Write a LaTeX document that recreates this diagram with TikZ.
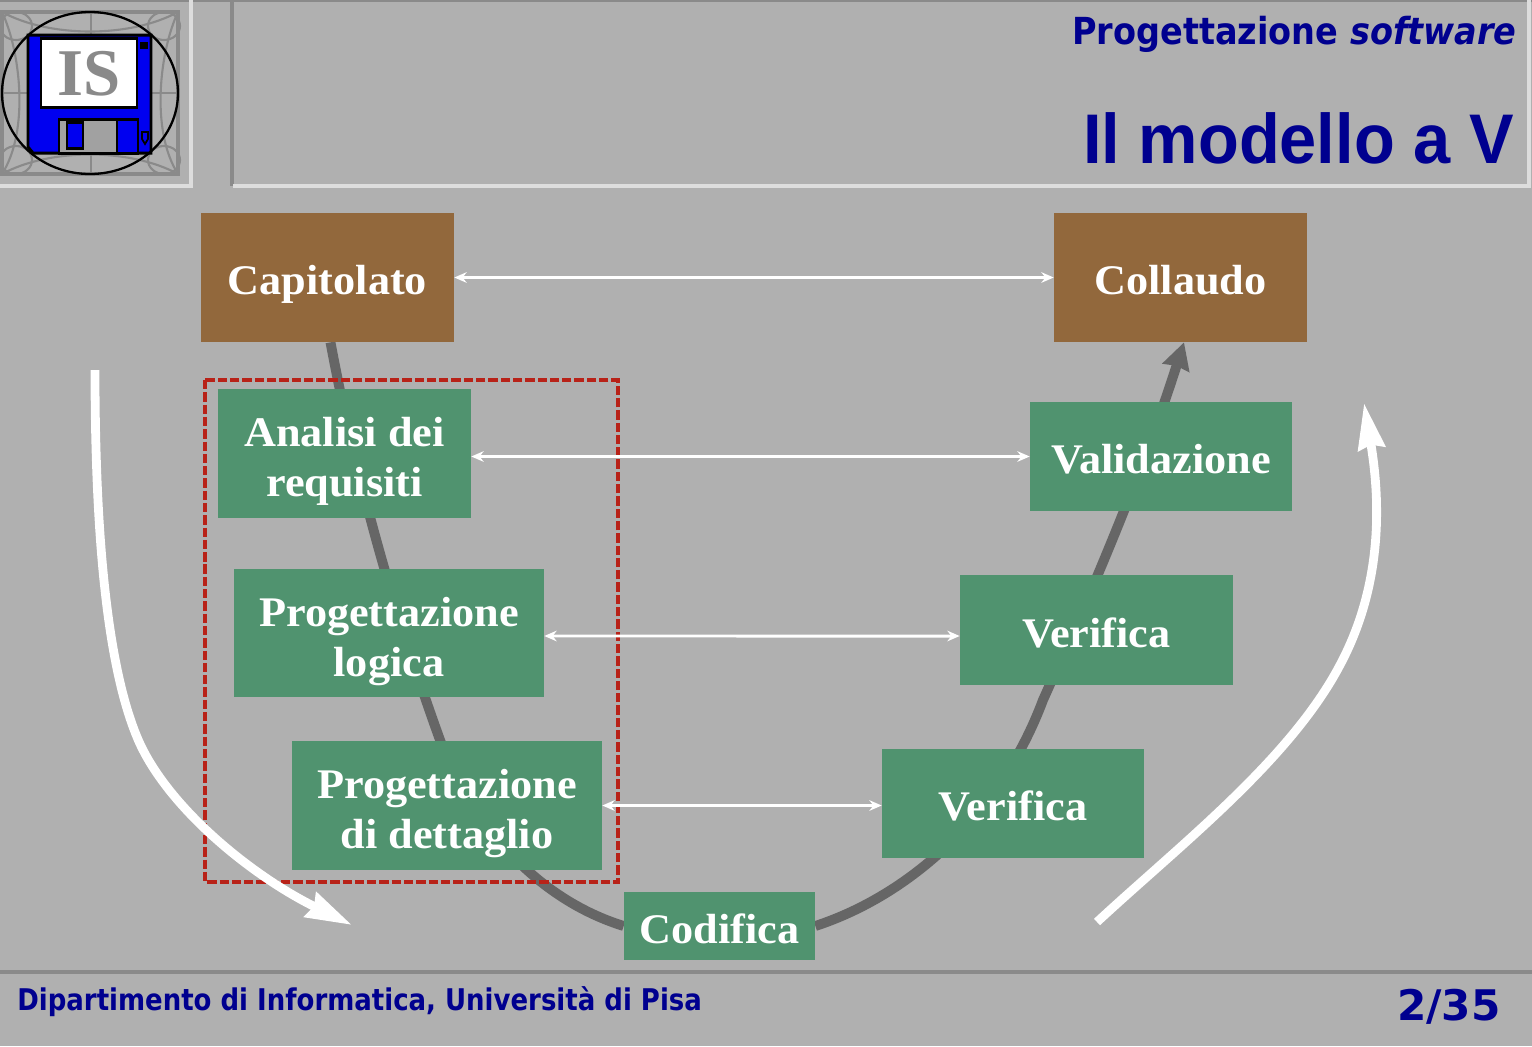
\documentclass[tikz,border=0pt]{standalone}
\usepackage{fontspec}
\setmainfont{Liberation Serif}
\newfontfamily\phasefont[FakeStretch=1.05]{Liberation Serif}
\newfontfamily\headfont[FakeStretch=0.9]{DejaVu Sans}
\newfontfamily\footfont[FakeStretch=0.87]{DejaVu Sans}
\newfontfamily\pagefont{DejaVu Sans}
\newfontfamily\bigfont[FakeStretch=0.95]{Liberation Sans}
\usetikzlibrary{arrows.meta,backgrounds}
\definecolor{slidegray}{HTML}{B0B0B0}
\definecolor{navy}{HTML}{00008F}
\definecolor{boxgreen}{HTML}{50936F}
\definecolor{boxbrown}{HTML}{92683C}
\definecolor{spinegray}{HTML}{666666}
\definecolor{dashred}{HTML}{B82218}
\definecolor{framegray}{HTML}{8A8A8A}
\definecolor{edgelight}{HTML}{DDDDDD}
\definecolor{floppyblue}{HTML}{0000F0}
\tikzset{
    phase/.style={fill=boxgreen, text=white, inner sep=0pt, align=center, font=\phasefont\fontsize{24}{28.3}\selectfont\bfseries,
        execute at begin node={\rule{0pt}{27.8pt}}, execute at end node={\rule[-8pt]{0pt}{8pt}}},
    phasetwo/.style={phase, execute at begin node={\rule{0pt}{57pt}}},
    endphase/.style={phase, fill=boxbrown},
    link/.style={white, line width=1.7pt, {Stealth[length=7pt,width=6pt]}-{Stealth[length=7pt,width=6pt]}},
    spine/.style={spinegray, line width=5.6pt},
    flow/.style={white, line width=5pt, -{Stealth[length=26pt,width=15pt,inset=2pt]}},
    ornament/.style={framegray, line width=1.2pt},
    floppyline/.style={black, line width=1.7pt}
}
\begin{document}
\begin{tikzpicture}[x=0.02cm, y=-0.02cm]
    \useasboundingbox (0, 0) rectangle (1532, 1046);
    % the boxes of the V
    \node[endphase, minimum width=5.06cm, minimum height=2.58cm] (capitolato) at (327.5, 277.5) {Capitolato};
    \node[endphase, minimum width=5.06cm, minimum height=2.58cm] (collaudo) at (1180.5, 277.5) {Collaudo};
    \node[phasetwo, minimum width=5.06cm, minimum height=2.58cm] (analisi) at (344.5, 453.5) {Analisi dei\\requisiti};
    \node[phase, minimum width=5.24cm, minimum height=2.18cm] (validazione) at (1161, 456.5) {Validazione};
    \node[phasetwo, minimum width=6.2cm, minimum height=2.56cm] (logica) at (389, 633) {Progettazione\\logica};
    \node[phase, minimum width=5.46cm, minimum height=2.2cm] (verificaalta) at (1096.5, 630) {Verifica};
    \node[phasetwo, minimum width=6.2cm, minimum height=2.58cm] (dettaglio) at (447, 805.5) {Progettazione\\di dettaglio};
    \node[phase, minimum width=5.24cm, minimum height=2.18cm] (verificabassa) at (1013, 803.5) {Verifica};
    \node[phase, minimum width=3.82cm, minimum height=1.36cm] (codifica) at (719.5, 926) {Codifica};
    \coordinate (spineleft) at (440, 740);
    \coordinate (spineright) at (1043, 700);
    \begin{pgfonlayer}{background}
        \fill[slidegray] (0, 0) rectangle (1532, 1046);
        % the spine behind the boxes
        \draw[spine] ([xshift=0.06cm]capitolato.south) .. controls (345, 420) and (375, 560) .. (spineleft)
            .. controls (475, 830) and (540, 900) .. (codifica.west);
        \draw[spine, -{Stealth[length=15pt,width=15.5pt,inset=1pt]}] (codifica.east) .. controls (910, 895) and (1000, 815) .. (spineright)
            .. controls (1088, 600) and (1140, 480) .. ([xshift=0.07cm]collaudo.south);
    \end{pgfonlayer}
    % red group
    \draw[dashred, line width=2.2pt, dash pattern=on 5.3pt off 1.7pt] (205, 380) rectangle (618, 882);
    % links between the two sides
    \draw[link] (capitolato.east) -- (collaudo.west);
    \draw[link] (analisi.east |- validazione.west) -- (validazione.west);
    \draw[link] ([yshift=-1.7pt]logica.east) -- (verificaalta.west |- 0, 636);
    \draw[link] (dettaglio.east) -- (verificabassa.west |- dettaglio.east);
    % big arrows
    \draw[flow] (95, 370) .. controls (95, 520) and (105, 660) .. (137, 737) .. controls (165, 805) and (250, 875) .. (352, 925);
    \draw[flow] (1097, 922) .. controls (1180, 845) and (1290, 760) .. (1340, 665) .. controls (1380, 590) and (1382, 510) .. (1364, 403);
    % header
    \draw[framegray, line width=1.5pt] (0, 0.5) -- (1532, 0.5);
    \draw[edgelight, line width=2pt] (191, 0) -- (191, 186) -- (0, 186);
    \draw[framegray, line width=2pt] (232, 0) -- (232, 186);
    \draw[edgelight, line width=2pt] (233, 186) -- (1529, 186) -- (1529, 0);
    \node[anchor=east, text=navy, inner sep=0pt, font=\headfont\fontsize{21.2}{21}\selectfont\bfseries] (sottotitolo) at (1517, 34) {Progettazione \textit{software}};
    \node[anchor=east, text=navy, inner sep=0pt, font=\bigfont\fontsize{40}{40}\selectfont\bfseries] (titolo) at (1514, 138) {Il modello a V};
    % footer
    \draw[framegray, line width=2pt] (0, 972) -- (1532, 972);
    \node[anchor=west, text=navy, inner sep=0pt, font=\footfont\fontsize{17}{17}\selectfont\bfseries] (dipartimento) at (17, 1002) {Dipartimento di Informatica, Università di Pisa};
    \node[anchor=east, text=navy, inner sep=0pt, font=\pagefont\fontsize{24}{24}\selectfont\bfseries] (pagina) at (1501, 1007) {2/35};
    % logo
    \draw[framegray, line width=2pt] (2, 12) rectangle (178, 174);
    \draw[ornament] (2, 93) -- (178, 93) (91, 12) -- (91, 174);
    \foreach \cx/\cy in {16/26, 164/26, 16/160, 164/160} {
        \draw[ornament] (\cx, \cy) circle (16 and 14);
    }
    \draw[ornament] (2, 12) .. controls (20, 50) and (30, 130) .. (2, 174);
    \draw[ornament] (178, 12) .. controls (160, 50) and (150, 130) .. (178, 174);
    \draw[ornament] (2, 12) .. controls (50, 38) and (130, 38) .. (178, 12);
    \draw[ornament] (2, 174) .. controls (50, 148) and (130, 148) .. (178, 174);
    \draw[floppyline, fill=floppyblue] (28, 35) -- (151, 35) -- (151, 153) -- (138, 153) -- (58, 153) -- (33, 153) -- (28, 147) -- cycle;
    \draw[floppyline, fill=white] (41, 38) rectangle (137, 107);
    \fill[black] (140, 42) rectangle (148, 49);
    \draw[floppyline, fill=framegray!80!white] (59, 119) rectangle (138, 153);
    \draw[floppyline, fill=floppyblue] (67, 122) rectangle (83, 148);
    \draw[floppyline, fill=floppyblue] (117, 119) rectangle (138, 153);
    \draw[black, line width=1pt] (142, 132) -- (142, 139) -- (145, 144) -- (148, 139) -- (148, 132) -- cycle;
    \node[text=framegray, inner sep=0pt, font=\fontsize{38}{38}\selectfont\bfseries] (sigla) at (89, 74) {IS};
    \draw[black, line width=1.3pt] (90, 93) circle (88 and 81);
\end{tikzpicture}
\end{document}
